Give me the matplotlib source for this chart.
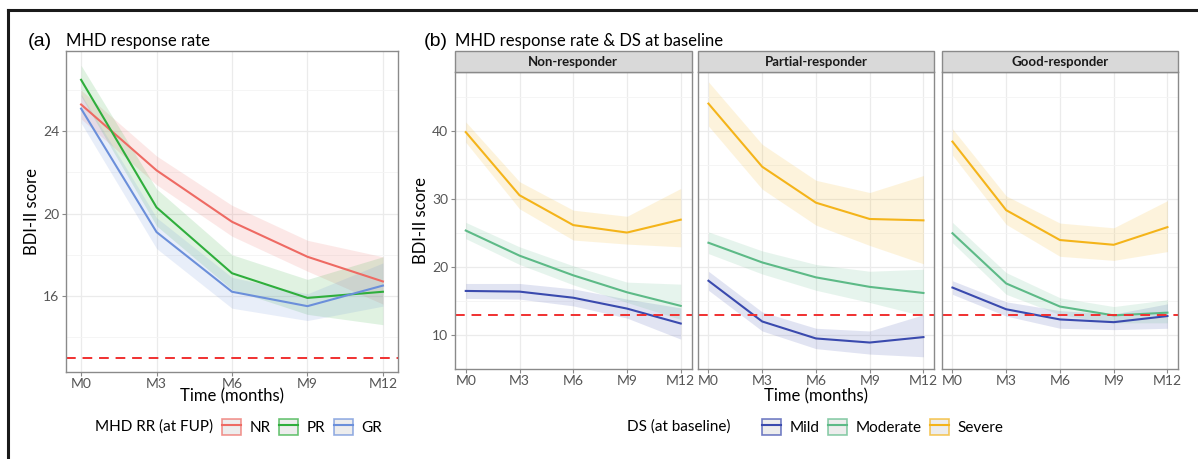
import numpy as np
import matplotlib
matplotlib.use("Agg")
import matplotlib.pyplot as plt
from matplotlib.lines import Line2D
from matplotlib.patches import Patch, Rectangle

months = ["M0", "M3", "M6", "M9", "M12"]

# (a) MHD response rate
rr_groups = ["NR", "PR", "GR"]
nr_mean = [25.3, 22.1, 19.6, 17.9, 16.7]
nr_lo = [24.6, 21.4, 18.9, 17.2, 15.6]
nr_hi = [26.0, 22.8, 20.4, 18.7, 17.9]
pr_mean = [26.5, 20.3, 17.1, 15.9, 16.2]
pr_lo = [25.7, 19.4, 16.3, 15.1, 14.6]
pr_hi = [27.2, 21.2, 18.0, 16.8, 17.9]
gr_mean = [25.1, 19.1, 16.2, 15.5, 16.5]
gr_lo = [24.4, 18.3, 15.4, 14.8, 15.5]
gr_hi = [25.8, 19.8, 16.9, 16.1, 17.6]

# (b) MHD response rate & DS at baseline
facets = ["Non-responder", "Partial-responder", "Good-responder"]
ds_groups = ["Mild", "Moderate", "Severe"]

non_mild = [16.5, 16.4, 15.5, 13.9, 11.7]
non_mild_lo = [15.4, 15.3, 14.3, 12.5, 9.4]
non_mild_hi = [17.6, 17.6, 16.8, 15.3, 14.0]
non_mod = [25.4, 21.7, 18.8, 16.3, 14.3]
non_mod_lo = [24.2, 20.4, 17.4, 14.8, 12.3]
non_mod_hi = [26.6, 23.0, 20.2, 17.8, 17.5]
non_sev = [39.9, 30.6, 26.2, 25.1, 27.0]
non_sev_lo = [38.4, 28.6, 24.0, 23.4, 23.0]
non_sev_hi = [41.4, 32.6, 28.4, 27.5, 31.6]

part_mild = [18.0, 12.0, 9.5, 8.9, 9.7]
part_mild_lo = [16.6, 10.6, 8.0, 7.2, 6.8]
part_mild_hi = [19.4, 13.4, 11.0, 10.6, 13.0]
part_mod = [23.6, 20.7, 18.5, 17.1, 16.2]
part_mod_lo = [22.0, 19.0, 16.6, 14.8, 12.8]
part_mod_hi = [25.2, 22.4, 20.4, 19.4, 19.7]
part_sev = [44.1, 34.8, 29.5, 27.1, 26.9]
part_sev_lo = [40.8, 31.5, 26.2, 23.2, 20.5]
part_sev_hi = [47.3, 38.1, 32.8, 31.0, 33.5]

good_mild = [17.0, 13.8, 12.3, 11.9, 12.8]
good_mild_lo = [16.0, 12.8, 11.0, 10.8, 11.0]
good_mild_hi = [18.0, 14.9, 13.6, 13.1, 14.6]
good_mod = [25.0, 17.6, 14.2, 12.9, 13.3]
good_mod_lo = [23.6, 16.0, 13.0, 11.8, 11.8]
good_mod_hi = [26.6, 19.2, 15.5, 14.2, 15.2]
good_sev = [38.5, 28.4, 24.0, 23.3, 25.9]
good_sev_lo = [36.5, 26.3, 21.6, 21.0, 22.3]
good_sev_hi = [40.4, 30.5, 26.5, 25.8, 29.8]

cutoff = 13

rr_colors = ["#ee6a63", "#2fae3c", "#6b8fda"]
ds_colors = ["#3a4aae", "#5dba87", "#f4b41a"]

FONT = "Lato"
TICK_C = "#555555"
BORDER_C = "#8a8a8a"
GRID_C = "#ebebeb"


def style_axes(ax):
    ax.set_facecolor("white")
    for s in ax.spines.values():
        s.set_color(BORDER_C)
        s.set_linewidth(1.0)
    ax.grid(True, which="major", color=GRID_C, lw=0.9)
    ax.grid(True, which="minor", color="#f4f4f4", lw=0.6)
    ax.set_axisbelow(True)
    ax.tick_params(axis="both", which="major", colors=BORDER_C, length=3,
                   labelcolor=TICK_C, labelsize=10, pad=2)
    ax.tick_params(axis="x", which="major", pad=1)
    ax.tick_params(axis="both", which="minor", length=0)
    for lab in ax.get_xticklabels() + ax.get_yticklabels():
        lab.set_fontfamily(FONT)


def band(ax, x, mean, lo, hi, color):
    ax.fill_between(x, lo, hi, color=color, alpha=0.15, lw=0)
    ax.plot(x, mean, color=color, lw=1.5)


def legend_handles(colors):
    return [(Patch(facecolor="#e6e6e6", edgecolor=c, alpha=0.7, lw=1.2),
             Line2D([], [], color=c, lw=1.5)) for c in colors]


def main():
    plt.rcParams["font.family"] = [FONT, "DejaVu Sans"]
    fig = plt.figure(figsize=(11.98, 4.59), dpi=100)
    W, H = 1198.0, 459.0
    x = np.arange(len(months))

    # ---- panel (a)
    ax = fig.add_axes([66 / W, 1 - 372 / H, 332 / W, 321 / H])
    band(ax, x, nr_mean, nr_lo, nr_hi, rr_colors[0])
    band(ax, x, pr_mean, pr_lo, pr_hi, rr_colors[1])
    band(ax, x, gr_mean, gr_lo, gr_hi, rr_colors[2])
    ax.axhline(cutoff, color="#f03030", lw=1.4, ls=(0, (5, 3.5)))
    ax.set_xlim(-0.2, 4.2)
    ax.set_ylim(12.3, 27.9)
    ax.set_xticks(x)
    ax.set_xticklabels(months)
    ax.set_yticks([16, 20, 24])
    ax.set_yticks([14, 18, 22, 26], minor=True)
    style_axes(ax)
    fig.text(232 / W, 1 - 396 / H, "Time (months)", fontsize=12,
             ha="center", va="center")
    ax.set_ylabel("BDI-II score", fontsize=12, labelpad=2)
    fig.text(28 / W, 1 - 42 / H, "(a)", fontsize=14, family="Liberation Sans",
             va="center", ha="left")
    fig.text(66 / W, 1 - 41 / H, "MHD response rate", fontsize=12,
             va="center", ha="left")

    # ---- panel (b)
    lefts = [455, 697.7, 941.7]
    panel_data = [
        [(non_mild, non_mild_lo, non_mild_hi), (non_mod, non_mod_lo, non_mod_hi),
         (non_sev, non_sev_lo, non_sev_hi)],
        [(part_mild, part_mild_lo, part_mild_hi), (part_mod, part_mod_lo, part_mod_hi),
         (part_sev, part_sev_lo, part_sev_hi)],
        [(good_mild, good_mild_lo, good_mild_hi), (good_mod, good_mod_lo, good_mod_hi),
         (good_sev, good_sev_lo, good_sev_hi)],
    ]
    pw = 236.5
    for i, name in enumerate(facets):
        l = lefts[i]
        bx = fig.add_axes([l / W, 1 - 369 / H, pw / W, (369 - 71.7) / H])
        for j, (m, lo, hi) in enumerate(panel_data[i]):
            band(bx, x, m, lo, hi, ds_colors[j])
        bx.axhline(cutoff, color="#f03030", lw=1.4, ls=(0, (5, 3.5)))
        bx.set_xlim(-0.2, 4.2)
        bx.set_ylim(5.0, 48.8)
        bx.set_xticks(x)
        bx.set_xticklabels(months)
        bx.set_yticks([10, 20, 30, 40])
        bx.set_yticks([15, 25, 35, 45], minor=True)
        style_axes(bx)
        if i == 0:
            bx.set_ylabel("BDI-II score", fontsize=12, labelpad=2)
        else:
            bx.tick_params(axis="y", labelleft=False, length=0)
        # facet strip
        fig.add_artist(Rectangle((l / W, 1 - 71.7 / H), pw / W, 20.7 / H,
                                 transform=fig.transFigure, facecolor="#d9d9d9",
                                 edgecolor=BORDER_C, lw=1.0))
        fig.text((l + pw / 2) / W, 1 - 61.5 / H, name, fontsize=9.5,
                 fontweight="bold", color="#1a1a1a", ha="center", va="center")

    fig.text(816 / W, 1 - 396 / H, "Time (months)", fontsize=12,
             ha="center", va="center")
    fig.text(424 / W, 1 - 42 / H, "(b)", fontsize=14, family="Liberation Sans",
             va="center", ha="left")
    fig.text(455 / W, 1 - 41 / H, "MHD response rate & DS at baseline",
             fontsize=12, va="center", ha="left")

    # ---- legends
    fig.text(95 / W, 1 - 427 / H, "MHD RR (at FUP)", fontsize=11,
             ha="left", va="center")
    fig.legend(legend_handles(rr_colors), rr_groups, loc="center left",
               bbox_to_anchor=(222 / W, 1 - 427 / H), ncol=3, frameon=False,
               fontsize=11, borderpad=0, borderaxespad=0, handlelength=1.25,
               handleheight=1.25, handletextpad=0.55, columnspacing=0.55)
    fig.text(627 / W, 1 - 427 / H, "DS (at baseline)", fontsize=11,
             ha="left", va="center")
    fig.legend(legend_handles(ds_colors), ds_groups, loc="center left",
               bbox_to_anchor=(762 / W, 1 - 427 / H), ncol=3, frameon=False,
               fontsize=11, borderpad=0, borderaxespad=0, handlelength=1.25,
               handleheight=1.25, handletextpad=0.55, columnspacing=0.55)

    # ---- outer frame (top and left edges)
    fig.add_artist(Line2D([8 / W, 8 / W], [0, 1 - 10 / H], color="#1a1a1a",
                          lw=2.2, transform=fig.transFigure))
    fig.add_artist(Line2D([8 / W, 1], [1 - 10 / H, 1 - 10 / H], color="#1a1a1a",
                          lw=2.2, transform=fig.transFigure))

    fig.savefig("out.png", dpi=100)


if __name__ == '__main__':
    main()
